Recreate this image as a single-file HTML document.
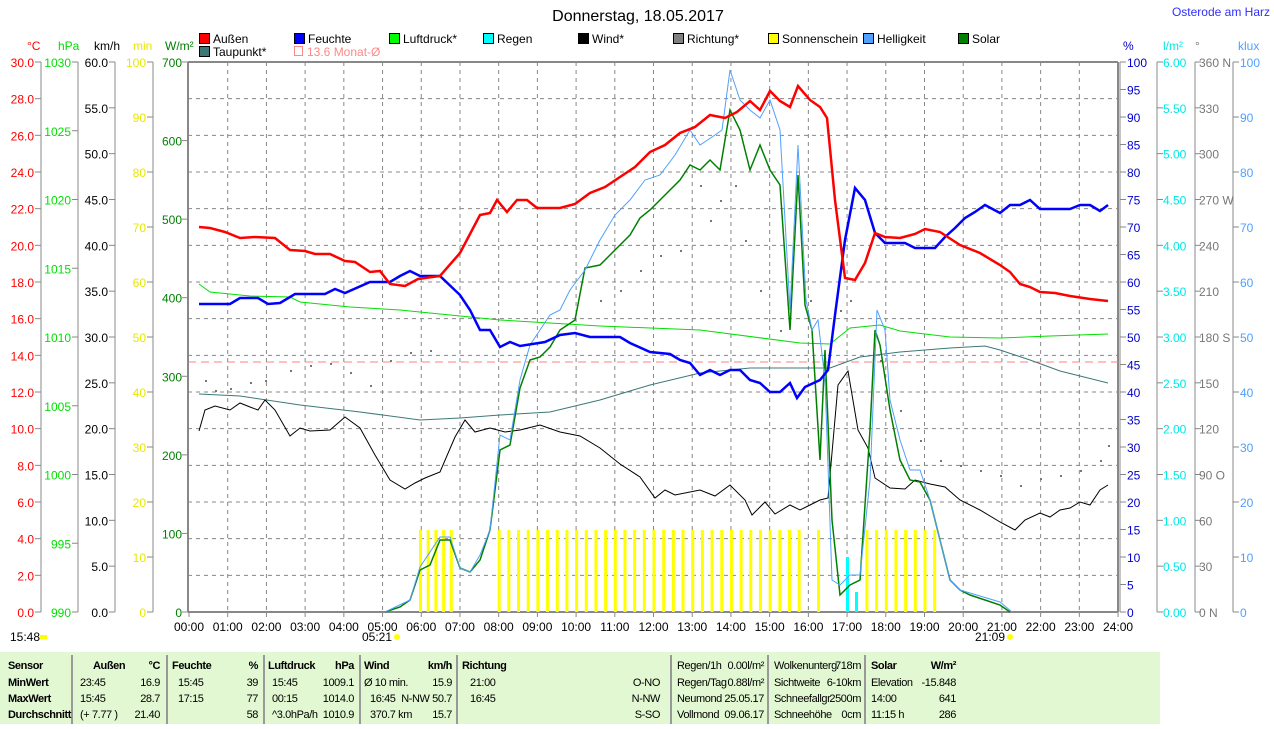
<!DOCTYPE html>
<html><head><meta charset="utf-8"><style>
body{margin:0;background:#fff;width:1274px;height:724px;overflow:hidden;font-family:"Liberation Sans",sans-serif}
svg text{font-family:"Liberation Sans",sans-serif;font-size:12px}
#tbl text{font-size:11px;letter-spacing:-0.4px}
</style></head><body>
<svg width="1274" height="724" xmlns="http://www.w3.org/2000/svg" id="s">
<text x="638" y="21" text-anchor="middle" style="font-size:16px">Donnerstag, 18.05.2017</text>
<text x="1270" y="16" text-anchor="end" fill="#3030ff">Osterode am Harz</text>
<g id="grid" stroke="#888" stroke-dasharray="4,4" stroke-width="1"></g>
<line x1="188" y1="62" x2="1118" y2="62" stroke="#888" stroke-width="2"/>
<line x1="188" y1="612" x2="1118" y2="612" stroke="#888" stroke-width="2"/>
<line x1="188" y1="62" x2="188" y2="612" stroke="#888" stroke-width="2"/>
<line x1="1118" y1="62" x2="1118" y2="612" stroke="#888" stroke-width="2"/>
<line x1="188" y1="362" x2="1118" y2="362" stroke="#ff8080" stroke-dasharray="8,5"/>
<g id="bars"></g>
<g id="ax" stroke="#888" fill="none"></g>
<g id="lab"></g>
<g id="dots" fill="#777"></g>
<polyline fill="none" stroke="#3c7878" points="199,394 240,396 300,405 360,412 420,420 460,418 500,415 550,412 600,400 650,385 700,373 750,368 800,368 830,368 860,357 900,352 950,348 985,346 1000,350 1030,360 1060,371 1108,383"/>
<polyline fill="none" stroke="#00e000" points="199,284 210,292 250,296 290,297 300,302 350,307 400,310 450,315 500,320 600,326 700,330 800,343 830,344 850,328 880,325 900,331 950,337 1000,338 1050,336 1108,334"/>
<polyline fill="none" stroke="#000" points="199,431 205,410 215,406 230,410 240,403 250,407 258,410 265,400 275,410 290,436 300,428 310,431 330,430 345,417 360,428 375,455 390,480 405,489 415,483 425,478 440,472 455,437 465,420 475,432 490,428 505,432 520,430 540,425 560,432 580,436 600,448 620,464 640,477 655,498 665,490 675,495 700,490 715,496 730,485 745,500 752,515 765,502 775,514 790,505 800,510 810,505 820,500 828,498 838,385 848,371 858,430 868,448 875,478 890,488 905,489 915,480 930,484 945,487 960,500 980,510 1000,522 1015,530 1025,520 1040,513 1050,517 1060,510 1070,508 1080,502 1090,505 1100,490 1108,485"/>
<polyline fill="none" stroke="#008000" stroke-width="1.5" points="385,612 400,607 410,600 420,570 430,565 440,540 450,540 460,568 470,572 480,560 490,530 500,450 510,445 520,388 530,360 540,357 550,347 560,330 575,320 585,268 600,265 610,255 620,245 630,235 640,218 650,210 660,200 670,190 680,180 690,165 700,170 710,160 720,170 730,110 740,130 750,170 760,145 770,170 780,185 790,330 798,175 805,305 812,330 820,460 825,350 832,520 840,595 850,585 860,580 870,430 875,330 880,345 890,410 900,460 910,480 920,482 930,500 940,540 950,580 960,590 970,595 985,600 1000,605 1010,612"/>
<polyline fill="none" stroke="#50a0ff" stroke-width="1" points="385,612 410,600 420,567 440,537 450,537 460,568 470,572 480,555 490,530 500,435 510,440 520,380 530,345 540,330 550,315 560,310 570,290 585,270 600,240 615,215 630,200 645,180 660,175 675,155 690,130 700,145 715,135 722,130 730,70 740,100 750,110 760,118 770,100 780,130 790,310 798,145 806,300 812,330 818,320 825,380 832,580 840,585 850,575 860,575 870,480 877,310 885,330 890,400 900,440 910,470 920,470 930,500 940,540 950,580 960,590 1000,602 1012,612"/>
<polyline fill="none" stroke="#0000ff" stroke-width="2.5" points="199,304 230,304 240,298 258,298 268,304 280,303 295,294 325,294 335,289 345,293 370,282 390,282 400,276 410,271 420,276 440,276 460,295 470,310 480,330 490,330 500,347 510,342 520,346 545,342 560,335 575,333 590,337 620,337 630,343 650,352 670,354 680,360 690,363 700,375 710,370 720,375 730,370 740,370 750,380 760,383 770,392 780,392 790,383 797,398 805,387 820,380 828,370 835,315 845,240 855,188 865,200 875,233 885,243 905,243 915,248 935,248 945,237 955,228 965,218 975,212 985,205 1000,213 1010,205 1020,205 1030,200 1040,209 1055,209 1070,209 1080,205 1090,205 1100,211 1108,205"/>
<polyline fill="none" stroke="#ff0000" stroke-width="2.5" points="199,227 210,228 225,232 240,238 255,237 275,238 290,250 305,251 315,254 330,254 345,261 355,262 370,272 380,271 390,284 405,286 418,279 440,276 460,253 480,215 490,213 497,200 507,212 517,200 527,200 537,208 560,208 575,204 590,193 605,187 620,177 635,167 650,152 665,145 680,133 695,127 710,115 725,118 737,112 750,101 760,110 770,91 780,101 790,107 798,86 810,100 820,107 827,118 835,200 845,278 855,280 865,263 875,233 885,237 900,238 915,234 925,229 940,232 960,245 980,253 1000,265 1010,272 1020,284 1030,287 1040,292 1055,293 1070,296 1090,299 1108,301"/>
<g id="leg"></g>
<text x="10" y="641">15:48</text><rect x="40" y="635" width="7" height="4" fill="#ff0"/>
<text x="362" y="641">05:21</text><circle cx="397" cy="637" r="3" fill="#ff0"/>
<text x="975" y="641">21:09</text><circle cx="1010" cy="637" r="3" fill="#ff0"/>
<rect x="0" y="652" width="1160" height="72" fill="#e2f8d2"/>
<g stroke="#999" stroke-width="2"><line x1="72" y1="655" x2="72" y2="724"/><line x1="167" y1="655" x2="167" y2="724"/><line x1="264" y1="655" x2="264" y2="724"/><line x1="360" y1="655" x2="360" y2="724"/><line x1="457" y1="655" x2="457" y2="724"/><line x1="671" y1="655" x2="671" y2="724"/><line x1="768" y1="655" x2="768" y2="724"/><line x1="865" y1="655" x2="865" y2="724"/></g>
<g id="tbl"></g>
</svg>
<script>
const S='http://www.w3.org/2000/svg';
function el(p,t,a,txt){const e=document.createElementNS(S,t);for(const k in a)e.setAttribute(k,a[k]);if(txt!==undefined)e.textContent=txt;document.getElementById(p).appendChild(e);return e;}
for(let h=1;h<24;h++){const x=189+h*38.71;el('grid','line',{x1:x,y1:62,x2:x,y2:612});}
for(let i=1;i<15;i++){const y=62+i*550/15;el('grid','line',{x1:188,y1:y,x2:1118,y2:y});}
for(let h=0;h<=24;h++){const x=189+h*38.71;el('lab','text',{x:x,y:631,'text-anchor':'middle'},(h<10?'0':'')+h+':00');el('ax','line',{x1:x,y1:612,x2:x,y2:617});}
for(let i=0;i<5;i++)el('bars','rect',{x:419+i*7.7,y:530,width:3,height:82,fill:'#ffff00'});
for(let q=0;q<32;q++)el('bars','rect',{x:189+(8+q/4)*38.71-1,y:530,width:3,height:82,fill:'#ffff00'});
[16.25,17.5,17.75,18,18.25,18.5,18.75,19,19.25].forEach(h=>el('bars','rect',{x:189+h*38.71-1,y:530,width:3,height:82,fill:'#ffff00'}));
el('bars','rect',{x:846,y:557,width:3,height:55,fill:'#00ffff'});
el('bars','rect',{x:855,y:592,width:3,height:20,fill:'#00ffff'});
function axis(lx,labx,n,fmt,col){el('ax','line',{x1:lx,y1:62,x2:lx,y2:612});
 for(let i=0;i<=n;i++){const y=612-i*550/n;el('ax','line',{x1:lx-6,y1:y,x2:lx,y2:y});
 el('lab','text',{x:labx,y:y+5,'text-anchor':'end',fill:col},fmt(i));}}
axis(41,34,15,i=>(i*2).toFixed(1),'#ff0000');
axis(78,71,8,i=>String(990+i*5),'#00e000');
axis(115,108,12,i=>(i*5).toFixed(1),'#000');
axis(153,146,10,i=>String(i*10),'#e8e800');
axis(188,182,7,i=>String(i*100),'#008000');
function raxis(lx,labx,n,fmt,col){el('ax','line',{x1:lx,y1:62,x2:lx,y2:612});
 for(let i=0;i<=n;i++){const y=612-i*550/n;el('ax','line',{x1:lx,y1:y,x2:lx+6,y2:y});
 el('lab','text',{x:labx,y:y+5,fill:col},fmt(i));}}
raxis(1120,1127,20,i=>String(i*5),'#0000cc');
raxis(1157,1163,12,i=>(i*0.5).toFixed(2),'#00e8e8');
const dn={0:' N',3:' O',6:' S',9:' W',12:' N'};
raxis(1195,1199,12,i=>String(i*30)+(dn[i]||''),'#777');
raxis(1233,1240,10,i=>String(i*10),'#50a0ff');
[['°C',27,'#f00'],['hPa',58,'#00e000'],['km/h',94,'#000'],['min',133,'#e8e800'],['W/m²',165,'#008000'],['%',1123,'#0000cc'],['l/m²',1163,'#00e8e8'],['°',1195,'#777'],['klux',1238,'#50a0ff']].forEach(u=>el('lab','text',{x:u[1],y:50,fill:u[2]},u[0]));
[['Außen',199,'#ff0000'],['Feuchte',294,'#0000ff'],['Luftdruck*',389,'#00ff00'],['Regen',483,'#00ffff'],['Wind*',578,'#000'],['Richtung*',673,'#808080'],['Sonnenschein',768,'#ffff00'],['Helligkeit',863,'#50a0ff'],['Solar',958,'#008000']].forEach(l=>{el('leg','rect',{x:l[1]+0.5,y:33.5,width:10,height:10,fill:l[2],stroke:'#000'});el('leg','text',{x:l[1]+14,y:43},l[0]);});
el('leg','rect',{x:199.5,y:46.5,width:10,height:10,fill:'#3c7878',stroke:'#000'});el('leg','text',{x:213,y:56},'Taupunkt*');
el('leg','rect',{x:294.5,y:46.5,width:8,height:9,fill:'none',stroke:'#f88'});el('leg','text',{x:307,y:56,fill:'#f88'},'13.6 Monat-Ø');
[[205,380],[215,390],[230,388],[250,382],[265,380],[290,370],[310,365],[330,363],[350,372],[370,385],[390,360],[410,352],[430,350],[700,185],[710,220],[735,185],[745,240],[760,290],[780,330],[810,300],[840,310],[850,300],[880,360],[900,410],[920,440],[940,460],[960,465],[980,470],[1000,475],[1020,485],[1040,478],[1060,475],[1080,470],[1100,460],[1108,445],[680,250],[660,255],[640,270],[620,290],[600,300],[720,200]].forEach(d=>el('dots','rect',{x:d[0],y:d[1],width:2,height:2}));
const rows=[665,682,698,714];
function t(x,r,s,a,b){const e=el('tbl','text',{x:x,y:rows[r]+4,'text-anchor':a||'start'},s);if(b)e.setAttribute('font-weight','bold');}
['Sensor','MinWert','MaxWert','Durchschnitt'].forEach((s,i)=>t(8,i,s,'start',1));
t(93,0,'Außen','start',1);t(160,0,'°C','end',1);t(172,0,'Feuchte','start',1);t(258,0,'%','end',1);
t(268,0,'Luftdruck','start',1);t(354,0,'hPa','end',1);t(364,0,'Wind','start',1);t(452,0,'km/h','end',1);t(462,0,'Richtung','start',1);
[['23:45','16.9'],['15:45','28.7'],['(+ 7.77 )','21.40']].forEach((v,i)=>{t(80,i+1,v[0]);t(160,i+1,v[1],'end');});
[['15:45','39'],['17:15','77'],['','58']].forEach((v,i)=>{t(178,i+1,v[0]);t(258,i+1,v[1],'end');});
[['15:45','1009.1'],['00:15','1014.0'],['^3.0hPa/h','1010.9']].forEach((v,i)=>{t(272,i+1,v[0]);t(354,i+1,v[1],'end');});
t(364,1,'Ø 10 min.');t(452,1,'15.9','end');
t(370,2,'16:45');t(452,2,'N-NW 50.7','end');
t(370,3,'370.7 km');t(452,3,'15.7','end');
t(470,1,'21:00');t(470,2,'16:45');t(660,1,'O-NO','end');t(660,2,'N-NW','end');t(660,3,'S-SO','end');
[['Regen/1h','0.00l/m²'],['Regen/Tag','0.88l/m²'],['Neumond','25.05.17'],['Vollmond','09.06.17']].forEach((v,i)=>{t(677,i,v[0]);t(764,i,v[1],'end');});
[['Wolkenunterg','718m'],['Sichtweite','6-10km'],['Schneefallgr','2500m'],['Schneehöhe','0cm']].forEach((v,i)=>{t(774,i,v[0]);t(861,i,v[1],'end');});
t(871,0,'Solar','start',1);t(956,0,'W/m²','end',1);
[['Elevation','-15.848'],[' 14:00','641'],['11:15 h','286']].forEach((v,i)=>{t(871,i+1,v[0]);t(956,i+1,v[1],'end');});
</script>
</body></html>
